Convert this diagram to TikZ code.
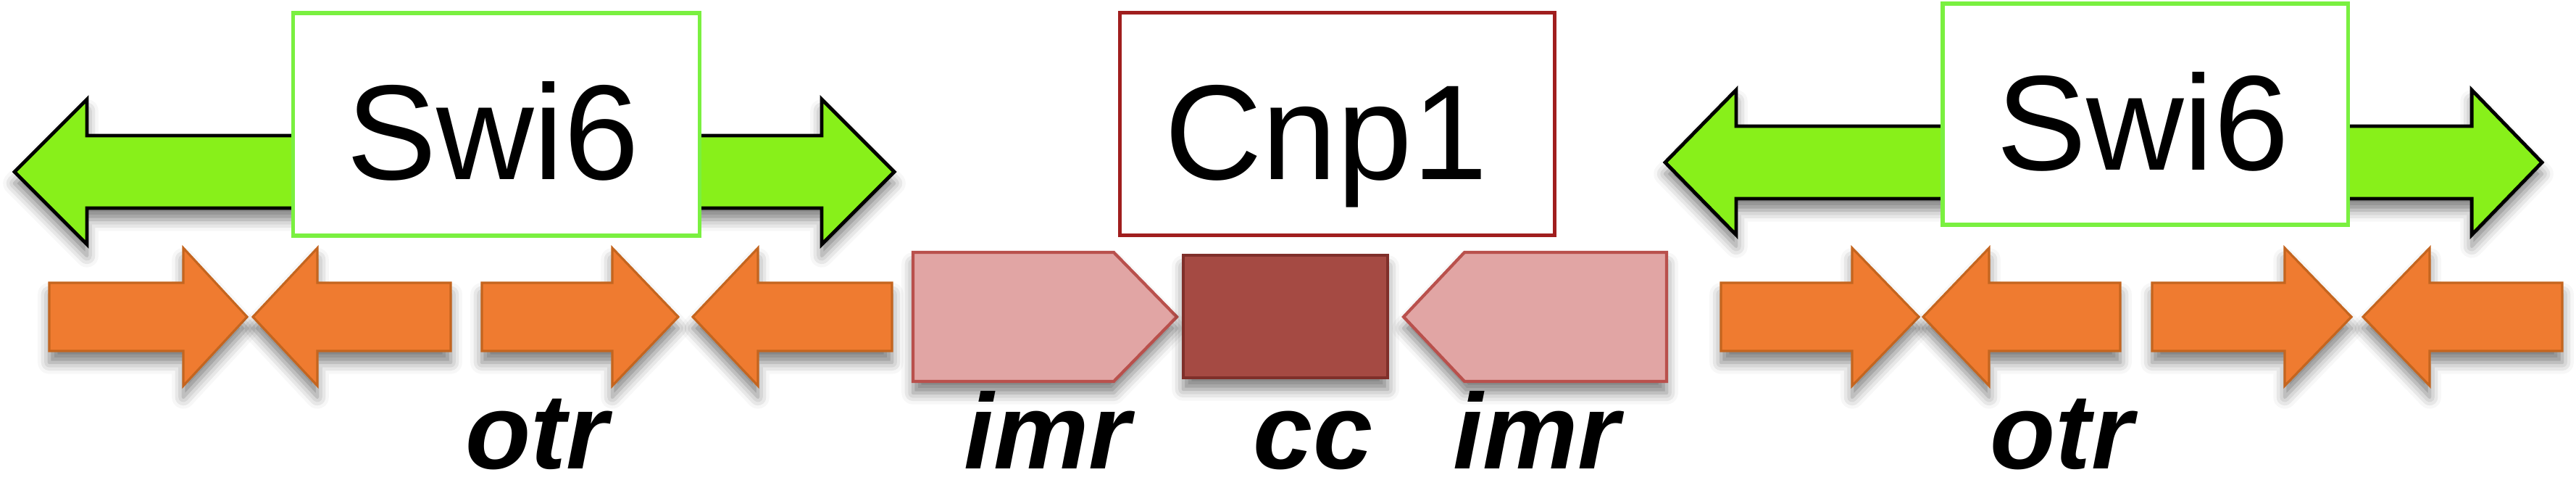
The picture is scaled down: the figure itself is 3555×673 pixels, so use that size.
\documentclass[tikz,border=0pt]{standalone}
\usepackage{fontspec}
\setmainfont{Liberation Sans}
\usetikzlibrary{shadows}
\IfFileExists{tikzlibraryshadows.blur.code.tex}{%
  \usetikzlibrary{shadows.blur}%
  \tikzset{shd/.style={blur shadow={shadow xshift=0pt,shadow yshift=-4.5pt,shadow blur radius=4.5pt,shadow opacity=50}}}%
}{%
  \tikzset{shd/.style={drop shadow={shadow xshift=0pt,shadow yshift=-4pt,opacity=0.3}}}%
}
\definecolor{greenfill}{HTML}{88F01A}
\definecolor{greenline}{HTML}{7AF040}
\definecolor{orfill}{HTML}{EF7B30}
\definecolor{orline}{HTML}{C4651F}
\definecolor{imrfill}{HTML}{E1A5A4}
\definecolor{imrline}{HTML}{B9504C}
\definecolor{ccfill}{HTML}{A54A43}
\definecolor{ccline}{HTML}{7F2F2A}
\definecolor{cnpline}{HTML}{A01E1E}
% right-pointing arrow: style, left x, head base x, tip x, centre y, shaft half height, head half height
\newcommand\rarr[7]{\draw[#1] (#2,{#5-#6}) -- (#3,{#5-#6}) -- (#3,{#5-#7}) -- (#4,#5) -- (#3,{#5+#7}) -- (#3,{#5+#6}) -- (#2,{#5+#6}) -- cycle;}
% left-pointing arrow: style, tip x, head base x, right x, centre y, shaft half, head half
\newcommand\larr[7]{\draw[#1] (#2,#5) -- (#3,{#5-#7}) -- (#3,{#5-#6}) -- (#4,{#5-#6}) -- (#4,{#5+#6}) -- (#3,{#5+#6}) -- (#3,{#5+#7}) -- cycle;}
% double arrow: style, left tip, left base, right base, right tip, centre y, shaft half, head half
\newcommand\darr[8]{\draw[#1] (#2,#6) -- (#3,{#6-#8}) -- (#3,{#6-#7}) -- (#4,{#6-#7}) -- (#4,{#6-#8}) -- (#5,#6) -- (#4,{#6+#8}) -- (#4,{#6+#7}) -- (#3,{#6+#7}) -- (#3,{#6+#8}) -- cycle;}
\begin{document}
\begin{tikzpicture}[x=0.01cm,y=-0.01cm,
  greenarr/.style={fill=greenfill,draw=black,line width=1.4pt,line join=miter,shd},
  orarr/.style={fill=orfill,draw=orline,line width=0.9pt,shd},
  imrarr/.style={fill=imrfill,draw=imrline,line width=1.2pt,shd},
  swibox/.style={draw=greenline,fill=white,line width=1.5pt,minimum width=5.6cm,minimum height=3.07cm,inner sep=0pt},
  cnpbox/.style={draw=cnpline,fill=white,line width=1.4pt,minimum width=5.99cm,minimum height=3.06cm,inner sep=0pt},
  ccbox/.style={draw=ccline,fill=ccfill,line width=1.2pt,minimum width=2.82cm,minimum height=1.69cm,inner sep=0pt,shd},
  bigtxt/.style={font=\fontsize{53}{60}\selectfont,anchor=base,inner sep=0pt},
  lbl/.style={font=\fontsize{42}{48}\selectfont\bfseries\itshape,anchor=base,inner sep=0pt}]
\useasboundingbox (0,0) rectangle (3555,673);
% green double arrows
\darr{greenarr}{20}{120}{1134}{1234}{237}{50}{100}
\darr{greenarr}{2298}{2396}{3411}{3508}{224}{50}{100}
% boxes
\node[swibox] (swiL) at (685,171.5) {};
\node[bigtxt] (swiLt) at (680,248) {Swi6};
\node[swibox,minimum width=5.59cm,minimum height=3.05cm] (swiR) at (2960.5,157.5) {};
\node[bigtxt] (swiRt) at (2957,235) {Swi6};
\node[cnpbox] (cnp) at (1845.5,171) {};
\node[bigtxt] (cnpt) at (1830,248) {Cnp1};
% orange otr arrows, left
\rarr{orarr}{68}{253}{341}{437}{47}{95}
\larr{orarr}{349}{438}{622}{437}{47}{95}
\rarr{orarr}{665}{845}{936}{437}{47}{95}
\larr{orarr}{956}{1046}{1231}{437}{47}{95}
% orange otr arrows, right
\rarr{orarr}{2375}{2556}{2648}{437}{47}{95}
\larr{orarr}{2654}{2745}{2926}{437}{47}{95}
\rarr{orarr}{2970}{3153}{3245}{437}{47}{95}
\larr{orarr}{3261}{3353}{3536}{437}{47}{95}
% imr and cc
\rarr{imrarr}{1260}{1537}{1624}{437}{89}{89}
\larr{imrarr}{1937}{2021}{2300}{437}{89}{89}
\node[ccbox] (cc) at (1774,436.5) {};
% labels
\node[lbl] (otrL) at (741,646) {otr};
\node[lbl] (imrL) at (1445,646) {imr};
\node[lbl] (ccl) at (1812,646) {cc};
\node[lbl] (imrR) at (2120,646) {imr};
\node[lbl] (otrR) at (2845,646) {otr};
\end{tikzpicture}
\end{document}
